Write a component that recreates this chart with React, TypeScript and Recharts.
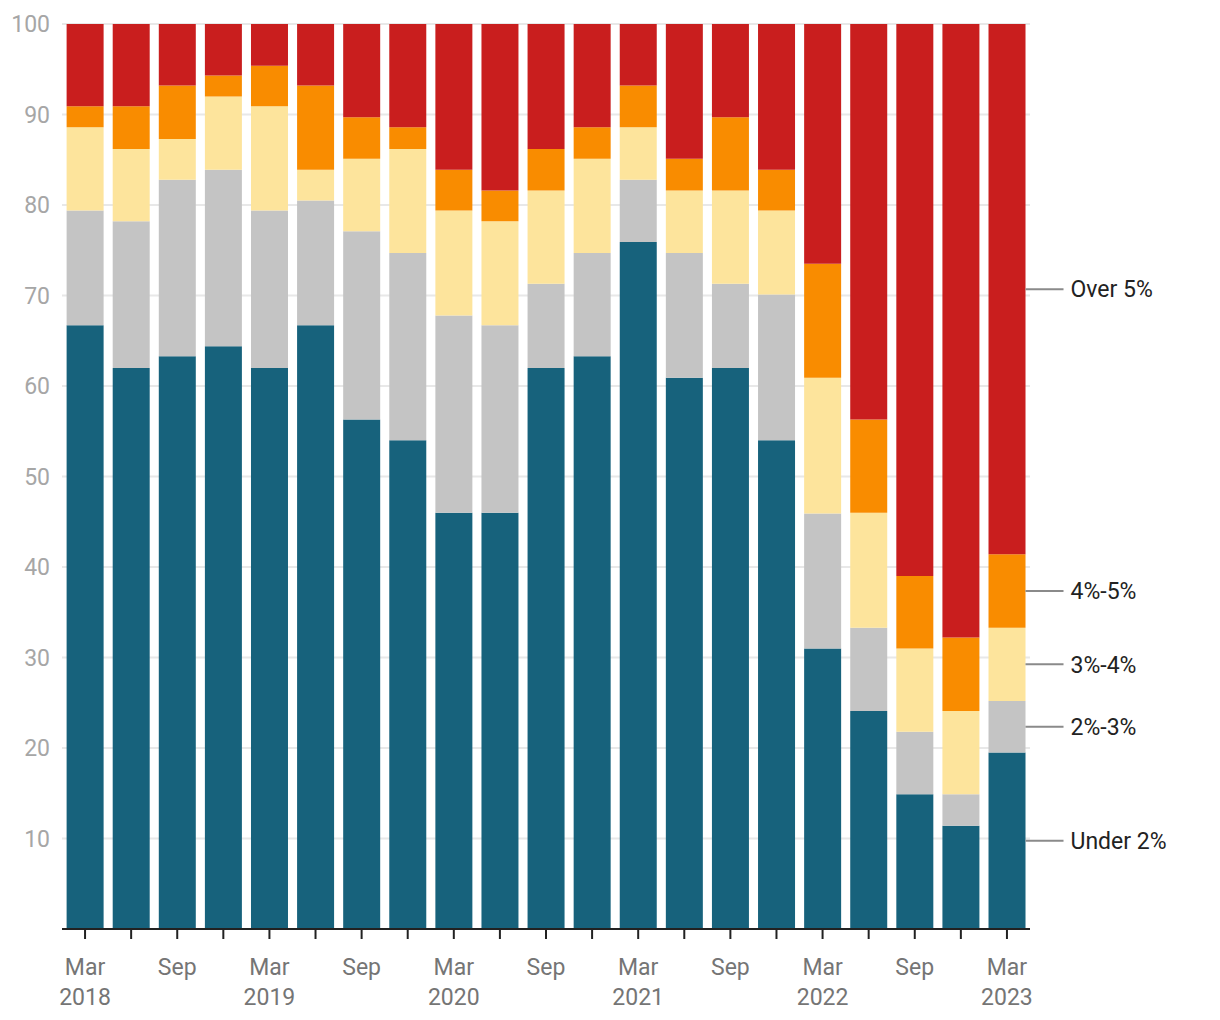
import { BarChart, Bar, XAxis, YAxis, CartesianGrid, LabelList } from 'recharts';

const quarters = [
  'Mar 2018', 'Jun 2018', 'Sep 2018', 'Dec 2018',
  'Mar 2019', 'Jun 2019', 'Sep 2019', 'Dec 2019',
  'Mar 2020', 'Jun 2020', 'Sep 2020', 'Dec 2020',
  'Mar 2021', 'Jun 2021', 'Sep 2021', 'Dec 2021',
  'Mar 2022', 'Jun 2022', 'Sep 2022', 'Dec 2022',
  'Mar 2023',
];

const under2 = [66.7, 62.0, 63.3, 64.4, 62.0, 66.7, 56.3, 54.0, 46.0, 46.0, 62.0, 63.3, 75.9, 60.9, 62.0, 54.0, 31.0, 24.1, 14.9, 11.4, 19.5];
const from2to3 = [12.7, 16.2, 19.5, 19.5, 17.4, 13.8, 20.8, 20.7, 21.8, 20.7, 9.3, 11.4, 6.9, 13.8, 9.3, 16.1, 14.9, 9.2, 6.9, 3.5, 5.7];
const from3to4 = [9.2, 8.0, 4.5, 8.1, 11.5, 3.4, 8.0, 11.5, 11.6, 11.5, 10.3, 10.4, 5.8, 6.9, 10.3, 9.3, 15.0, 12.7, 9.2, 9.2, 8.1];
const from4to5 = [2.3, 4.7, 5.9, 2.3, 4.5, 9.3, 4.6, 2.4, 4.5, 3.4, 4.6, 3.5, 4.6, 3.5, 8.1, 4.5, 12.6, 10.3, 8.0, 8.1, 8.1];
const over5 = [9.1, 9.1, 6.8, 5.7, 4.6, 6.8, 10.3, 11.4, 16.1, 18.4, 13.8, 11.4, 6.8, 14.9, 10.3, 16.1, 26.5, 43.7, 61.0, 67.8, 58.6];

const yTicks = [10, 20, 30, 40, 50, 60, 70, 80, 90, 100];

const series = [
  { key: 'under2', name: 'Under 2%', color: '#17627c' },
  { key: 'b23', name: '2%-3%', color: '#c4c4c4' },
  { key: 'b34', name: '3%-4%', color: '#fde49c' },
  { key: 'b45', name: '4%-5%', color: '#f98c00' },
  { key: 'over5', name: 'Over 5%', color: '#c91e1e' },
];

const data = quarters.map((q, i) => ({
  quarter: q,
  under2: under2[i],
  b23: from2to3[i],
  b34: from3to4[i],
  b45: from4to5[i],
  over5: over5[i],
}));

const FONT = 'Roboto, "Noto Sans", sans-serif';

function QuarterTick(props: any) {
  const { x, y, payload, index } = props;
  if (index % 2 !== 0) return null;
  const [month, year] = String(payload.value).split(' ');
  return (
    <text x={x} y={y} textAnchor="middle" fill="#757575" fontSize={23} fontFamily={FONT}>
      <tspan x={x} dy={34}>{month}</tspan>
      {month === 'Mar' && <tspan x={x} dy={30}>{year}</tspan>}
    </text>
  );
}

function sideLabel(name: string) {
  return (props: any) => {
    const vb = props.viewBox ?? props;
    const { x, y, width, height } = vb;
    if (props.index !== quarters.length - 1) return null;
    const right = x + width;
    const mid = y + height / 2;
    return (
      <g>
        <line x1={right} x2={right + 38} y1={mid} y2={mid} stroke="#8a8a8a" strokeWidth={2} />
        <text x={right + 45} y={mid} dy="0.36em" fill="#222" fontSize={23} fontFamily={FONT}>
          {name}
        </text>
      </g>
    );
  };
}

export default function App() {
  return (
    <BarChart
      width={1204}
      height={1010}
      data={data}
      margin={{ top: 16, right: 182, left: 0, bottom: 0 }}
      barCategoryGap="10%"
    >
      <CartesianGrid vertical={false} stroke="#e8e8e8" strokeWidth={2} />
      <XAxis
        dataKey="quarter"
        interval={0}
        height={89}
        tick={<QuarterTick />}
        tickSize={10}
        axisLine={{ stroke: '#222', strokeWidth: 2 }}
        tickLine={{ stroke: '#222', strokeWidth: 2 }}
      />
      <YAxis
        width={54}
        domain={[0, 100]}
        ticks={yTicks}
        axisLine={false}
        tickLine={false}
        tickMargin={6}
        tick={{ fill: '#a6a6a6', fontSize: 23, fontFamily: FONT }}
      />
      {series.map((s) => (
        <Bar key={s.key} dataKey={s.key} stackId="a" fill={s.color} isAnimationActive={false}>
          <LabelList content={sideLabel(s.name)} />
        </Bar>
      ))}
    </BarChart>
  );
}
